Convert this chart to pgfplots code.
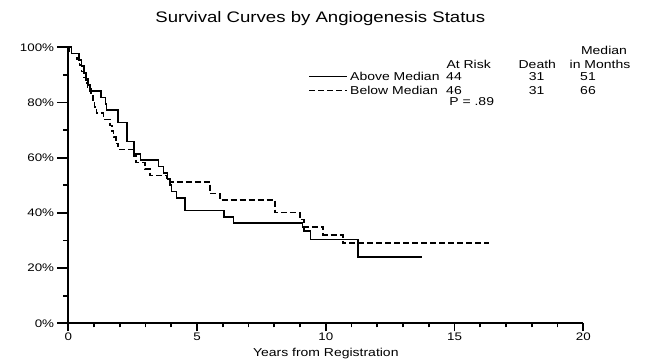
\documentclass[border=0pt]{standalone}
\usepackage{pgfplots}
\pgfplotsset{compat=1.18}
\usepackage{fontspec}
\setmainfont{Liberation Sans}[FakeStretch=1.22]
\begin{document}
\begin{tikzpicture}
\useasboundingbox (-68.3bp,-35.7bp) rectangle (579.7bp,323.3bp);
% x axis
\begin{axis}[scale only axis, width=515bp, height=276bp,
  xmin=0, xmax=20, ymin=0, ymax=100,
  axis line style={draw=none},
  ytick=\empty,
  xtick={0,5,10,15,20},
  minor xtick={1,2,3,4,6,7,8,9,11,12,13,14,16,17,18,19},
  xtick pos=left, tick align=outside, major tick length=8bp, minor tick length=4bp,
  tick style={line width=1.8bp, black},
  xticklabel style={font=\fontsize{11}{13}\selectfont, inner sep=1bp},
  /pgf/number format/assume math mode=true,
  clip=false]
\draw[line width=1.9bp, black] (axis cs:0,0) -- (axis cs:20,0);
\end{axis}
% y axis and curves
\begin{axis}[scale only axis, width=515bp, height=276bp,
  xmin=0, xmax=20, ymin=0, ymax=100,
  axis line style={draw=none},
  xtick=\empty,
  ytick={0,20,40,60,80,100},
  minor ytick={10,30,50,70,90},
  ytick pos=left, tick align=outside, major tick length=11bp, minor tick length=5bp,
  tick style={line width=1.8bp, black},
  yticklabel={\pgfmathprintnumber{\tick}\%},
  yticklabel style={font=\fontsize{11}{13}\selectfont, inner sep=3bp},
  /pgf/number format/assume math mode=true,
  clip=false]
\draw[line width=1.9bp, black] (axis cs:0,0) -- (axis cs:0,100);
\addplot[const plot, black, line width=1.6bp] coordinates {
(0,100) (0.13,97.7) (0.42,95.5) (0.52,93.2) (0.6,90.9) (0.68,88.6) (0.76,86.4) (0.84,84.1)
(1.26,81.8) (1.44,79.5) (1.48,77.3) (1.94,72.7) (2.27,65.9) (2.55,61.4) (2.81,59.1)
(3.5,56.8) (3.7,54.5) (3.85,52.3) (3.95,50.0) (4.0,47.7) (4.2,45.4) (4.53,40.9)
(6.05,38.6) (6.41,36.4) (9.1,35.0) (9.15,33.5) (9.41,30.4) (11.26,24.1) (13.72,24.1)
};
\addplot[const plot, black, line width=1.6bp, dash pattern=on 6bp off 3bp] coordinates {
(0,100) (0.05,97.8) (0.33,95.7) (0.43,93.5) (0.52,91.3) (0.6,89.1) (0.68,87.0) (0.75,84.8)
(0.88,82.6) (0.95,80.4) (1.02,78.3) (1.1,76.1) (1.36,73.9) (1.62,71.7) (1.69,69.6)
(1.75,67.4) (1.85,65.2) (1.94,63.0) (2.55,60.6) (2.62,58.3) (2.98,56.0) (3.17,53.6)
(3.82,52.5) (3.95,51.3) (5.5,47.1) (5.89,44.7) (8.03,40.1) (8.99,37.6) (9.15,35.0)
(9.9,32.0) (10.66,29.0) (16.35,29.0)
};
\end{axis}
% title and axis label
\node[anchor=base, font=\fontsize{15.3}{18}\selectfont] at (252bp,300.6bp) {Survival Curves by Angiogenesis Status};
\node[anchor=base, font=\fontsize{11.5}{13}\selectfont] at (257.5bp,-33.4bp) {Years from Registration};
% legend
\draw[black, line width=1.6bp] (241bp,246.6bp) -- (278.4bp,246.6bp);
\draw[black, line width=1.6bp, dash pattern=on 6bp off 3bp] (241bp,232.6bp) -- (278.4bp,232.6bp);
\begin{scope}[every node/.style={anchor=base, inner sep=0pt, font=\fontsize{11.5}{13}\selectfont}]
\node[anchor=base west] at (281.7bp,242.5bp) {Above Median};
\node[anchor=base west] at (281.7bp,228.5bp) {Below Median};
\node at (400.4bp,255.2bp) {At Risk};
\node at (385.7bp,242.5bp) {44};
\node at (385.7bp,228.5bp) {46};
\node at (469bp,255.2bp) {Death};
\node at (468.4bp,242.5bp) {31};
\node at (468.4bp,228.5bp) {31};
\node at (535.7bp,268.5bp) {Median};
\node at (531.7bp,255.2bp) {in Months};
\node at (519.7bp,242.5bp) {51};
\node at (519.7bp,228.5bp) {66};
\node at (403.4bp,218.2bp) {P = .89};
\end{scope}
\end{tikzpicture}
\end{document}
